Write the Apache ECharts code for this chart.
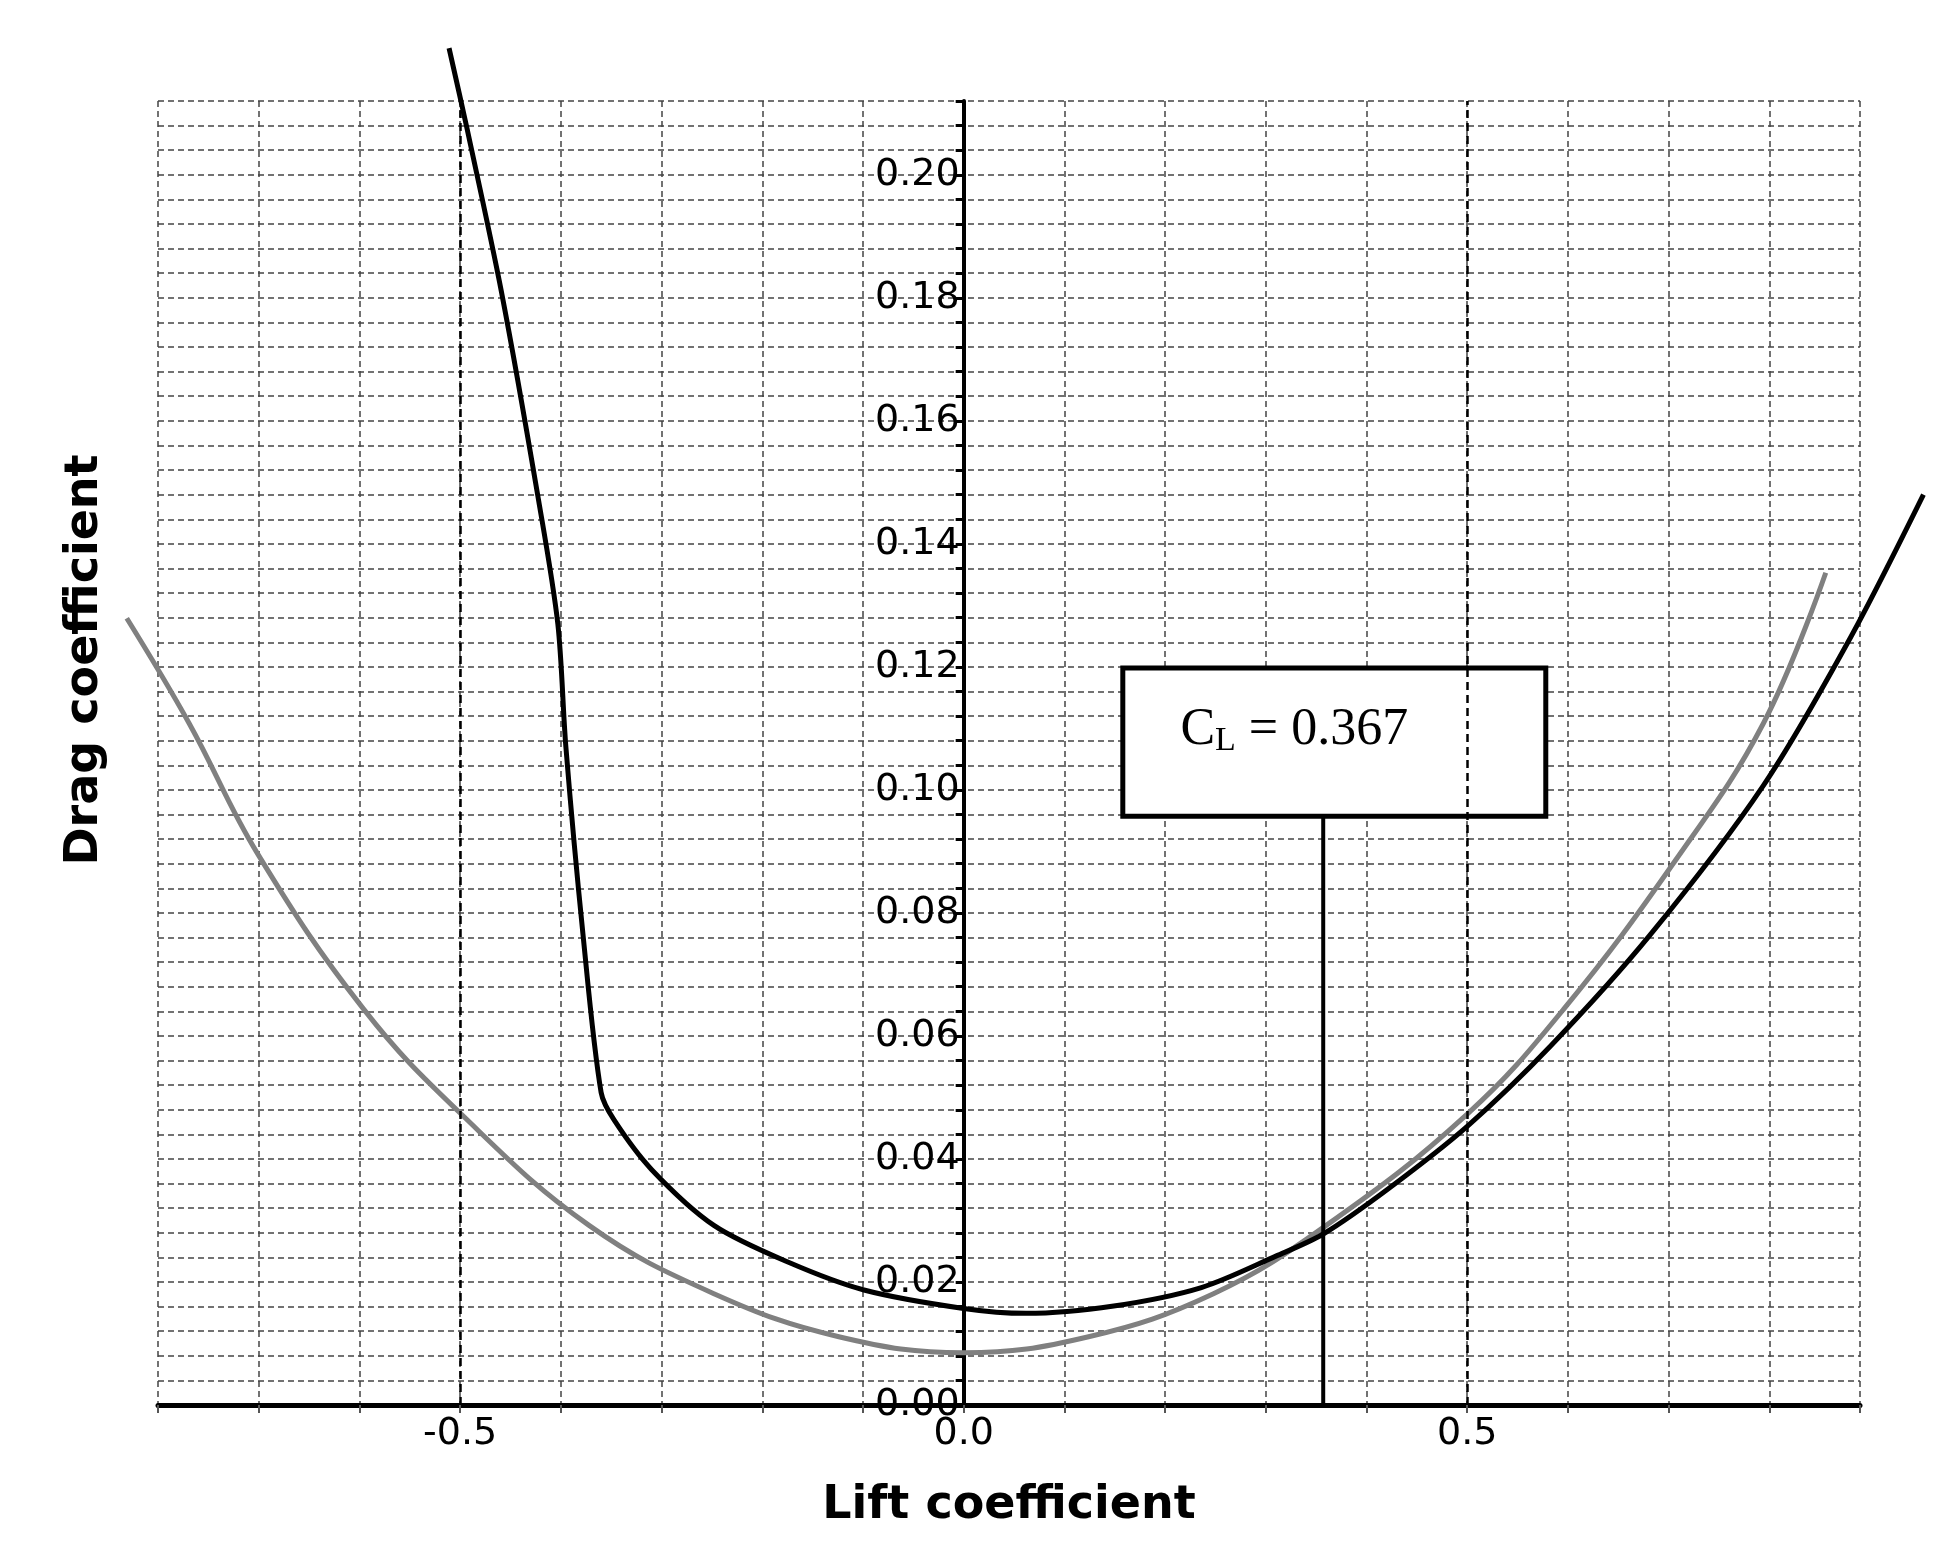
<!DOCTYPE html>
<html><head><meta charset="utf-8">
<script src="https://cdn.jsdelivr.net/npm/echarts@6/dist/echarts.min.js"></script>
<style>html,body{margin:0;padding:0;background:#fff}#c{width:1948px;height:1545px}</style>
</head><body><div id="c"></div>
<script>
const blackCL = [-0.511,-0.493,-0.459,-0.422,-0.403,-0.395,-0.378,-0.360,-0.347,-0.310,-0.248,-0.174,-0.099,0,0.062,0.149,0.236,0.310,0.357,0.422,0.5,0.583,0.682,0.794,0.881,0.953];
const blackCD = [0.2206,0.2074,0.181,0.147,0.127,0.107,0.0765,0.0508,0.0463,0.0383,0.0292,0.0232,0.0187,0.0157,0.0149,0.0161,0.0191,0.0242,0.0278,0.0352,0.0453,0.0584,0.0765,0.1007,0.1249,0.148];
const grayCL = [-0.831,-0.769,-0.701,-0.596,-0.499,-0.372,-0.248,-0.124,0,0.124,0.248,0.360,0.5,0.596,0.707,0.794,0.856];
const grayCD = [0.1279,0.1108,0.0896,0.0644,0.0473,0.0292,0.0181,0.0111,0.0085,0.0111,0.0181,0.0292,0.0473,0.0644,0.0886,0.1108,0.1353];
const clMark = 0.357;
const boxX = [0.158, 0.578];
const boxY = [0.0957, 0.1198];
const refLines = [-0.5, 0.5];

const zip = (a,b)=>a.map((v,i)=>[v,b[i]]);
const W=1948,H=1545, L=158,R=88,T=101,B=140;
const xMin=-0.8,xMax=0.89,yMin=0,yMax=0.212;
const sx=(W-L-R)/(xMax-xMin), sy=(H-T-B)/(yMax-yMin);
const x2Min=-0.85,x2Max=0.97,y2Max=0.228;
const grid2={left:L-(xMin-x2Min)*sx,right:R-(x2Max-xMax)*sx,top:T-(y2Max-yMax)*sy,bottom:B};
const yOffset=-(0-xMin)*sx;
const chart = echarts.init(document.getElementById('c'));
const dashed = {type:[6,4], color:'#444', width:1.5};
chart.setOption({
  animation:false,
  grid:[{left:L,right:R,top:T,bottom:B},grid2],
  xAxis:[{type:'value',min:xMin,max:xMax,interval:0.1,
    name:'Lift coefficient',nameLocation:'middle',nameGap:78,
    nameTextStyle:{fontFamily:'DejaVu Sans',fontWeight:'bold',fontSize:46,color:'#000'},
    axisLine:{onZero:false,lineStyle:{color:'#000',width:5}},
    axisTick:{show:true,length:8,lineStyle:{color:'#555',width:2}},
    axisLabel:{fontFamily:'DejaVu Sans',fontSize:38,color:'#000',margin:10,
      formatter:v=>{const r=Math.round(v*10);return (r%5===0)?(r/10).toFixed(1):'';}},
    splitLine:{show:true,lineStyle:dashed}},
   {type:'value',gridIndex:1,min:x2Min,max:x2Max,show:false}],
  yAxis:[{type:'value',min:yMin,max:yMax,interval:0.004,offset:yOffset,
    axisLine:{onZero:false,lineStyle:{color:'#000',width:4}},
    axisTick:{show:true,length:8,lineStyle:{color:'#000',width:3},
      interval:(i,v)=>Math.round(v*1000)%20===0},
    axisLabel:{fontFamily:'DejaVu Sans',fontSize:38,color:'#000',margin:4,
      formatter:v=>{const r=Math.round(v*1000);return (r%20===0)?(r/1000).toFixed(2):'';}},
    splitLine:{show:true,lineStyle:dashed}},
   {type:'value',gridIndex:1,min:0,max:y2Max,show:false}],
  graphic:[{type:'text',x:85,y:660,rotation:Math.PI/2,
    style:{text:'Drag coefficient',font:'bold 46px "DejaVu Sans"',fill:'#000',textAlign:'center',textVerticalAlign:'middle'}}],
  series:[
    {type:'line',xAxisIndex:1,yAxisIndex:1,data:zip(grayCL,grayCD),smooth:0.4,showSymbol:false,
     lineStyle:{color:'#808080',width:5},z:3},
    {type:'line',xAxisIndex:1,yAxisIndex:1,data:zip(blackCL,blackCD),smooth:0.3,showSymbol:false,
     lineStyle:{color:'#000',width:5},z:4},
    {type:'line',data:[[clMark,0],[clMark,boxY[0]]],showSymbol:false,
     lineStyle:{color:'#000',width:4},z:5,
     markLine:{symbol:'none',silent:true,label:{show:false},
       data:refLines.map(x=>({xAxis:x,lineStyle:{color:'#000',type:[8,5],width:2.5}}))},
     markArea:{silent:true,itemStyle:{color:'#fff',borderColor:'#000',borderWidth:5},
       label:{show:true,position:'inside',offset:[-40,-12],
         formatter:'{a|C}{b|L}{a| = 0.367}',
         rich:{a:{fontFamily:'Liberation Serif',fontSize:52,color:'#000'},
               b:{fontFamily:'Liberation Serif',fontSize:34,color:'#000',padding:[22,0,0,0]}}},
       data:[[{coord:[boxX[0],boxY[1]]},{coord:[boxX[1],boxY[0]]}]]}}
  ]
});
</script></body></html>
